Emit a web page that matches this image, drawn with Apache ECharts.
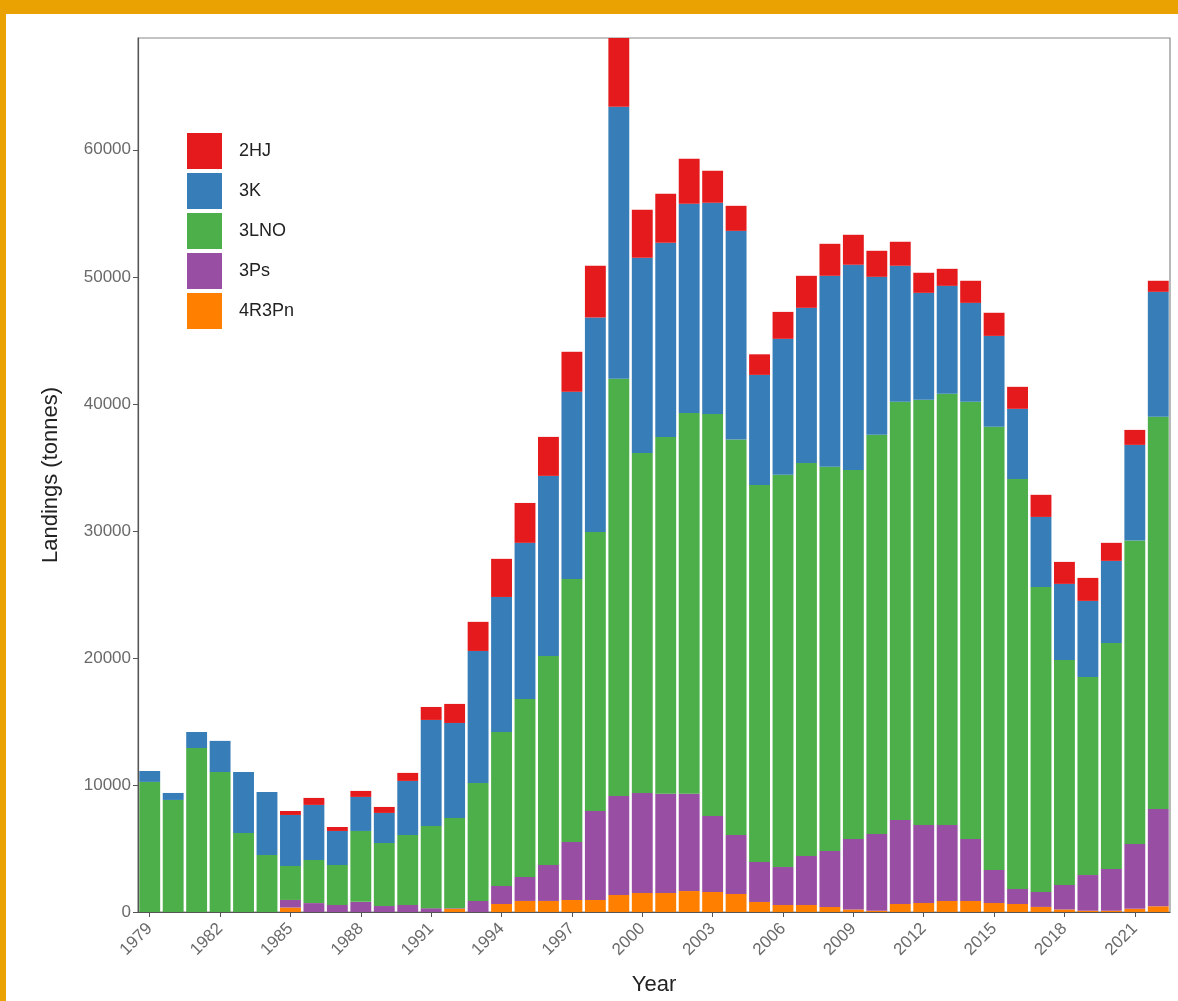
<!DOCTYPE html>
<html>
<head>
<meta charset="utf-8">
<script src="https://cdn.jsdelivr.net/npm/echarts@6/dist/echarts.min.js"></script>
<style>
  html, body { margin: 0; padding: 0; background: #fff; }
  #frame {
    position: absolute; left: 0; top: 0; width: 1178px; height: 1001px;
    box-sizing: border-box; border-top: 14px solid #E9A202; border-left: 6px solid #E9A202;
  }
  #main { position: absolute; left: 0; top: 0; width: 1178px; height: 1001px; }
</style>
</head>
<body>
<div id="frame"></div>
<div id="main"></div>
<script>
// years on x axis
const years = [];
for (let y = 1979; y <= 2022; y++) years.push(String(y));

// landings (tonnes) per division
const s4R3Pn = [0, 0, 0, 0, 0, 0, 350, 0, 0, 0, 0, 0, 0, 250, 0, 630, 870, 870, 950, 950,
  1340, 1500, 1500, 1650, 1580, 1420, 790, 550, 550, 400, 200, 100, 630, 710, 870, 870,
  710, 630, 400, 200, 100, 100, 250, 450];
const s3Ps = [0, 0, 0, 0, 0, 0, 600, 700, 550, 800, 470, 550, 300, 50, 870, 1420, 1890, 2830,
  4560, 7000, 7790, 7870, 7800, 7650, 5980, 4640, 3150, 2990, 3860, 4400, 5550, 6040, 6610,
  6140, 5980, 4880, 2600, 1180, 1180, 1930, 2810, 3290, 5100, 7660];
const s3LNO = [10240, 8820, 12910, 11020, 6220, 4490, 2670, 3390, 3150, 5580, 4960, 5510, 6470,
  7100, 9290, 12120, 14010, 16460, 20710, 21970, 32840, 26770, 28100, 29990, 31650, 31140,
  29680, 30870, 30940, 30240, 29050, 31420, 32920, 33470, 33940, 34410, 34880, 32280, 24010,
  17710, 15590, 17790, 23900, 30870];
const s3K = [860, 550, 1260, 2450, 4800, 4960, 4020, 4340, 2680, 2680, 2370, 4260, 8350, 7480,
  10390, 10630, 12290, 14170, 14730, 16880, 21420, 15360, 15280, 16460, 16620, 16420, 8660,
  10710, 12210, 15040, 16150, 12440, 10710, 8420, 8500, 7790, 7160, 5520, 5510, 5990, 5990,
  6460, 7520, 9840];
const s2HJ = [0, 0, 0, 0, 0, 0, 310, 550, 310, 470, 470, 630, 1020, 1500, 2290, 3000, 3140, 3070,
  3150, 4070, 5410, 3780, 3860, 3540, 2520, 1970, 1620, 2120, 2520, 2520, 2360, 2050, 1890,
  1580, 1340, 1740, 1820, 1730, 1740, 1730, 1810, 1420, 1180, 870];

const legendOrder = ["2HJ", "3K", "3LNO", "3Ps", "4R3Pn"];
// stacked bottom to top
const stackSeries = [
  { name: "4R3Pn", data: s4R3Pn, color: "#FF7F00" },
  { name: "3Ps", data: s3Ps, color: "#984EA3" },
  { name: "3LNO", data: s3LNO, color: "#4DAF4A" },
  { name: "3K", data: s3K, color: "#377EB8" },
  { name: "2HJ", data: s2HJ, color: "#E41A1C" }
];

const chart = echarts.init(document.getElementById("main"));
const font = "Liberation Sans, Arial, sans-serif";

chart.setOption({
  animation: false,
  textStyle: { fontFamily: font },
  grid: {
    left: 138, right: 8, top: 38, bottom: 89,
    show: true, borderColor: "#8a8a8a", borderWidth: 1.2, backgroundColor: "transparent"
  },
  legend: {
    data: legendOrder,
    orient: "vertical",
    left: 182, top: 128,
    icon: "rect",
    itemWidth: 35, itemHeight: 36, itemGap: 4,
    textStyle: { fontSize: 18, color: "#222", fontFamily: font, padding: [0, 0, 0, 12] }
  },
  xAxis: {
    type: "category",
    data: years,
    name: "Year",
    nameLocation: "middle",
    nameGap: 62,
    nameTextStyle: { fontSize: 22, color: "#222" },
    axisLine: { show: true, lineStyle: { color: "#555", width: 1.2 } },
    axisTick: { show: true, interval: 2, alignWithLabel: true, length: 5, lineStyle: { color: "#555" } },
    axisLabel: { interval: 2, rotate: 45, margin: 14, fontSize: 17, color: "#6a6a6a" }
  },
  yAxis: {
    type: "value",
    min: 0, max: 68800, interval: 10000,
    name: "Landings (tonnes)",
    nameLocation: "middle",
    nameGap: 76,
    nameTextStyle: { fontSize: 22, color: "#222" },
    axisLine: { show: true, lineStyle: { color: "#555", width: 1.2 } },
    axisTick: { show: true, length: 5, lineStyle: { color: "#555" } },
    axisLabel: { fontSize: 17, color: "#6a6a6a", margin: 7, showMaxLabel: false,
      formatter: v => String(v) },
    splitLine: { show: false }
  },
  series: stackSeries.map(s => ({
    name: s.name,
    type: "bar",
    stack: "total",
    data: s.data,
    barCategoryGap: "11%",
    itemStyle: { color: s.color },
    emphasis: { disabled: true }
  }))
});
</script>
</body>
</html>
